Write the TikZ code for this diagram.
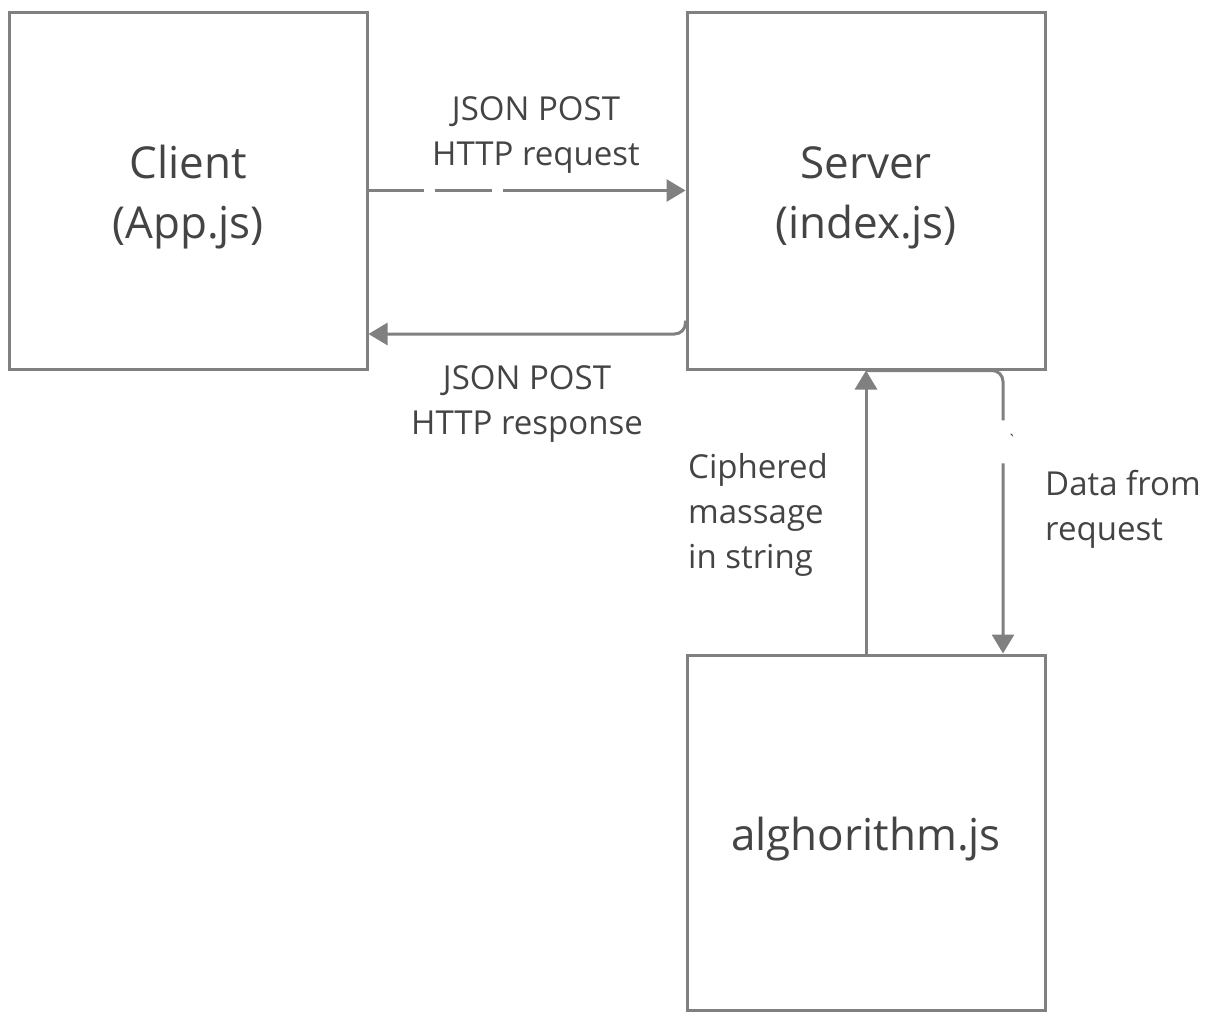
\documentclass[tikz,border=0pt]{standalone}
\usepackage{fontspec}
\setmainfont{Open Sans}
\usetikzlibrary{arrows.meta}
\definecolor{linegray}{RGB}{128,128,128}
\definecolor{textgray}{RGB}{68,68,68}
\tikzset{
  box/.style={draw=linegray, line width=3pt, minimum width=358pt, minimum height=357pt, inner sep=0pt},
  boxtext/.style={align=center, text=textgray, inner sep=0pt, font=\fontsize{44}{60}\selectfont},
  conn/.style={draw=linegray, line width=3pt, -{Triangle[length=19pt,width=22pt]}},
  lbl/.style={text=textgray, font=\fontsize{33}{45}\selectfont, inner sep=0pt},
}
\begin{document}
\begin{tikzpicture}[x=1pt,y=-1pt]
\useasboundingbox (0,0) rectangle (1213,1012);
\node[box] (client) at (188,190.5) {};
\node[box] (server) at (866,190.5) {};
\node[box, minimum height=355pt] (alg) at (866,832.5) {};
\node[boxtext] (clienttxt) at (188,197.5) {Client\\(App.js)};
\node[boxtext] (servertxt) at (866,197.5) {Server\\(index.js)};
\node[boxtext] (algtxt) at (866,839.5) {alghorithm.js};

\draw[conn, dash pattern=on 55pt off 11pt on 57pt off 11pt on 400pt] (client.east) -- (server.west);
\draw[conn, rounded corners=11pt] ([yshift=-130pt]server.west) |- ([yshift=-143.5pt]client.east);
\draw[conn] (alg.north) -- (server.south);
\draw[conn, rounded corners=11pt, dash pattern=on 182pt off 43pt on 400pt] (server.south) -| ([xshift=137pt]alg.north);

\node[lbl, align=center] (l1) at (536,135) {JSON POST\\HTTP request};
\node[lbl, align=center] (l2) at (527,404) {JSON POST\\HTTP response};
\node[lbl, align=left, anchor=west] (l3) at (688,515) {Ciphered\\massage\\in string};
\node[lbl, align=left, anchor=west] (l4) at (1045,509) {Data from\\request};
\node[text=textgray, font=\fontsize{16}{16}\selectfont, inner sep=0pt] (tick) at (1012,440) {\textasciigrave};
\end{tikzpicture}
\end{document}
